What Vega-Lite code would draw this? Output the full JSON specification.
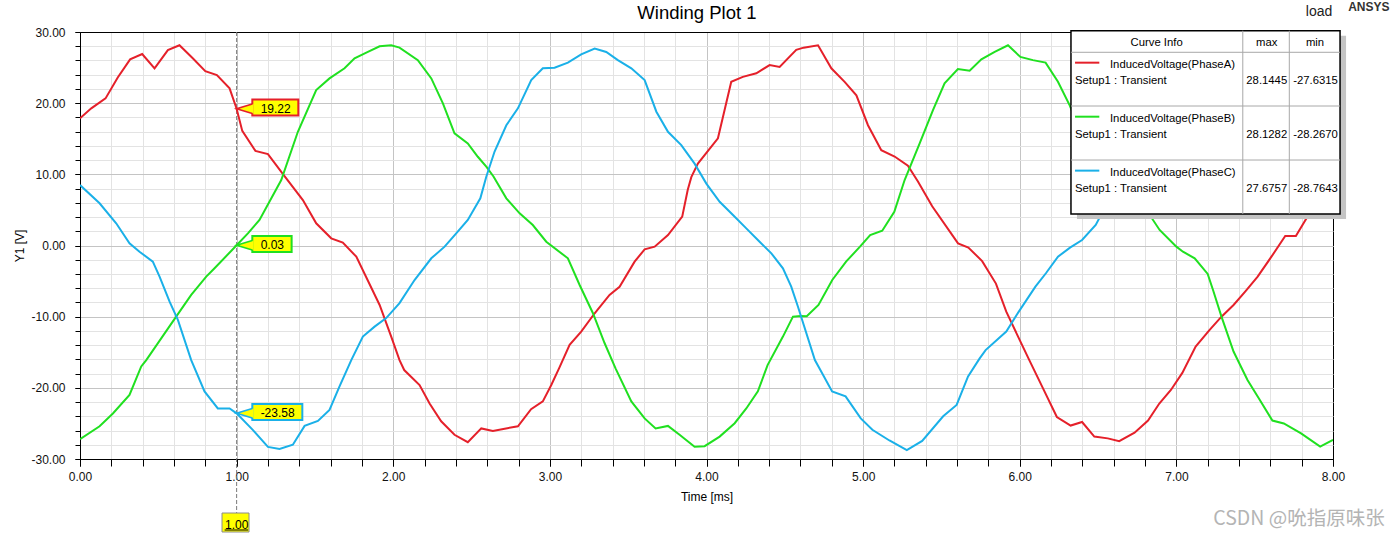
{
  "$schema": "https://vega.github.io/schema/vega-lite/v6.json",
  "width": 1253,
  "height": 427,
  "autosize": {"type": "none"},
  "padding": {"left": 80, "top": 32, "right": 67, "bottom": 78},
  "background": "white",
  "config": {
    "view": {"stroke": null},
    "font": "Liberation Sans",
    "locale": {"number": {"decimal": ".", "thousands": ",", "grouping": [3], "currency": ["$", ""], "minus": "-"}}
  },
  "resolve": {"axis": {"x": "independent", "y": "independent"}},
  "datasets": {
    "curves": [
      {"t":0,"v":17.87,"s":"PhaseA"},{"t":0.072,"v":19.27,"s":"PhaseA"},{"t":0.163,"v":20.67,"s":"PhaseA"},{"t":0.241,"v":23.6,"s":"PhaseA"},{"t":0.32,"v":26.15,"s":"PhaseA"},{"t":0.397,"v":26.9,"s":"PhaseA"},{"t":0.476,"v":24.9,"s":"PhaseA"},{"t":0.561,"v":27.46,"s":"PhaseA"},{"t":0.635,"v":28.14,"s":"PhaseA"},{"t":0.72,"v":26.3,"s":"PhaseA"},{"t":0.8,"v":24.5,"s":"PhaseA"},{"t":0.874,"v":23.95,"s":"PhaseA"},{"t":0.955,"v":22.08,"s":"PhaseA"},{"t":1.0,"v":19.22,"s":"PhaseA"},{"t":1.036,"v":16.1,"s":"PhaseA"},{"t":1.12,"v":13.3,"s":"PhaseA"},{"t":1.2,"v":12.85,"s":"PhaseA"},{"t":1.29,"v":10.2,"s":"PhaseA"},{"t":1.423,"v":6.39,"s":"PhaseA"},{"t":1.508,"v":3.12,"s":"PhaseA"},{"t":1.604,"v":1.01,"s":"PhaseA"},{"t":1.678,"v":0.4,"s":"PhaseA"},{"t":1.764,"v":-1.57,"s":"PhaseA"},{"t":1.913,"v":-8.36,"s":"PhaseA"},{"t":1.987,"v":-12.8,"s":"PhaseA"},{"t":2.04,"v":-16.1,"s":"PhaseA"},{"t":2.07,"v":-17.5,"s":"PhaseA"},{"t":2.168,"v":-19.6,"s":"PhaseA"},{"t":2.232,"v":-22.2,"s":"PhaseA"},{"t":2.306,"v":-24.7,"s":"PhaseA"},{"t":2.391,"v":-26.6,"s":"PhaseA"},{"t":2.476,"v":-27.63,"s":"PhaseA"},{"t":2.562,"v":-25.7,"s":"PhaseA"},{"t":2.636,"v":-26.05,"s":"PhaseA"},{"t":2.72,"v":-25.7,"s":"PhaseA"},{"t":2.796,"v":-25.4,"s":"PhaseA"},{"t":2.88,"v":-23.0,"s":"PhaseA"},{"t":2.955,"v":-21.9,"s":"PhaseA"},{"t":3.009,"v":-19.6,"s":"PhaseA"},{"t":3.06,"v":-17.2,"s":"PhaseA"},{"t":3.126,"v":-13.97,"s":"PhaseA"},{"t":3.2,"v":-12.1,"s":"PhaseA"},{"t":3.286,"v":-9.52,"s":"PhaseA"},{"t":3.381,"v":-6.95,"s":"PhaseA"},{"t":3.445,"v":-5.8,"s":"PhaseA"},{"t":3.541,"v":-2.27,"s":"PhaseA"},{"t":3.605,"v":-0.54,"s":"PhaseA"},{"t":3.669,"v":-0.16,"s":"PhaseA"},{"t":3.754,"v":1.47,"s":"PhaseA"},{"t":3.845,"v":4.05,"s":"PhaseA"},{"t":3.88,"v":7.8,"s":"PhaseA"},{"t":3.903,"v":9.6,"s":"PhaseA"},{"t":3.945,"v":11.5,"s":"PhaseA"},{"t":4.073,"v":15.06,"s":"PhaseA"},{"t":4.158,"v":23.0,"s":"PhaseA"},{"t":4.232,"v":23.7,"s":"PhaseA"},{"t":4.318,"v":24.2,"s":"PhaseA"},{"t":4.403,"v":25.35,"s":"PhaseA"},{"t":4.467,"v":25.1,"s":"PhaseA"},{"t":4.573,"v":27.5,"s":"PhaseA"},{"t":4.62,"v":27.8,"s":"PhaseA"},{"t":4.712,"v":28.14,"s":"PhaseA"},{"t":4.797,"v":24.9,"s":"PhaseA"},{"t":4.882,"v":23.0,"s":"PhaseA"},{"t":4.957,"v":21.1,"s":"PhaseA"},{"t":5.031,"v":16.9,"s":"PhaseA"},{"t":5.116,"v":13.4,"s":"PhaseA"},{"t":5.201,"v":12.5,"s":"PhaseA"},{"t":5.286,"v":11.2,"s":"PhaseA"},{"t":5.35,"v":9.0,"s":"PhaseA"},{"t":5.441,"v":5.52,"s":"PhaseA"},{"t":5.606,"v":0.3,"s":"PhaseA"},{"t":5.672,"v":-0.28,"s":"PhaseA"},{"t":5.76,"v":-2.2,"s":"PhaseA"},{"t":5.848,"v":-5.35,"s":"PhaseA"},{"t":5.914,"v":-9.3,"s":"PhaseA"},{"t":6.0,"v":-13.3,"s":"PhaseA"},{"t":6.061,"v":-16.1,"s":"PhaseA"},{"t":6.147,"v":-20.0,"s":"PhaseA"},{"t":6.237,"v":-24.1,"s":"PhaseA"},{"t":6.325,"v":-25.3,"s":"PhaseA"},{"t":6.398,"v":-24.8,"s":"PhaseA"},{"t":6.476,"v":-26.85,"s":"PhaseA"},{"t":6.562,"v":-27.1,"s":"PhaseA"},{"t":6.635,"v":-27.5,"s":"PhaseA"},{"t":6.733,"v":-26.3,"s":"PhaseA"},{"t":6.819,"v":-24.6,"s":"PhaseA"},{"t":6.891,"v":-22.2,"s":"PhaseA"},{"t":6.965,"v":-20.3,"s":"PhaseA"},{"t":7.038,"v":-17.9,"s":"PhaseA"},{"t":7.123,"v":-14.2,"s":"PhaseA"},{"t":7.211,"v":-11.9,"s":"PhaseA"},{"t":7.288,"v":-10.0,"s":"PhaseA"},{"t":7.365,"v":-8.36,"s":"PhaseA"},{"t":7.442,"v":-6.4,"s":"PhaseA"},{"t":7.519,"v":-4.38,"s":"PhaseA"},{"t":7.607,"v":-1.57,"s":"PhaseA"},{"t":7.695,"v":1.33,"s":"PhaseA"},{"t":7.763,"v":1.33,"s":"PhaseA"},{"t":7.85,"v":4.52,"s":"PhaseA"},{"t":7.9,"v":8.0,"s":"PhaseA"},{"t":7.95,"v":11.0,"s":"PhaseA"},{"t":8.0,"v":12.5,"s":"PhaseA"},
      {"t":0,"v":-27.2,"s":"PhaseB"},{"t":0.125,"v":-25.4,"s":"PhaseB"},{"t":0.21,"v":-23.6,"s":"PhaseB"},{"t":0.316,"v":-21.0,"s":"PhaseB"},{"t":0.391,"v":-17.0,"s":"PhaseB"},{"t":0.423,"v":-16.1,"s":"PhaseB"},{"t":0.614,"v":-10.0,"s":"PhaseB"},{"t":0.71,"v":-6.95,"s":"PhaseB"},{"t":0.806,"v":-4.38,"s":"PhaseB"},{"t":0.859,"v":-3.2,"s":"PhaseB"},{"t":1.0,"v":0.03,"s":"PhaseB"},{"t":1.072,"v":1.71,"s":"PhaseB"},{"t":1.146,"v":3.58,"s":"PhaseB"},{"t":1.285,"v":9.2,"s":"PhaseB"},{"t":1.391,"v":15.98,"s":"PhaseB"},{"t":1.508,"v":21.84,"s":"PhaseB"},{"t":1.593,"v":23.48,"s":"PhaseB"},{"t":1.689,"v":24.9,"s":"PhaseB"},{"t":1.753,"v":26.3,"s":"PhaseB"},{"t":1.838,"v":27.2,"s":"PhaseB"},{"t":1.913,"v":28.0,"s":"PhaseB"},{"t":1.987,"v":28.13,"s":"PhaseB"},{"t":2.04,"v":27.8,"s":"PhaseB"},{"t":2.157,"v":26.05,"s":"PhaseB"},{"t":2.243,"v":23.48,"s":"PhaseB"},{"t":2.317,"v":19.97,"s":"PhaseB"},{"t":2.391,"v":15.76,"s":"PhaseB"},{"t":2.476,"v":14.35,"s":"PhaseB"},{"t":2.54,"v":12.47,"s":"PhaseB"},{"t":2.594,"v":11.07,"s":"PhaseB"},{"t":2.64,"v":9.7,"s":"PhaseB"},{"t":2.722,"v":6.63,"s":"PhaseB"},{"t":2.807,"v":4.52,"s":"PhaseB"},{"t":2.891,"v":2.88,"s":"PhaseB"},{"t":2.977,"v":0.53,"s":"PhaseB"},{"t":3.115,"v":-1.8,"s":"PhaseB"},{"t":3.19,"v":-5.55,"s":"PhaseB"},{"t":3.275,"v":-9.52,"s":"PhaseB"},{"t":3.349,"v":-13.7,"s":"PhaseB"},{"t":3.42,"v":-17.3,"s":"PhaseB"},{"t":3.52,"v":-21.9,"s":"PhaseB"},{"t":3.605,"v":-24.3,"s":"PhaseB"},{"t":3.675,"v":-25.7,"s":"PhaseB"},{"t":3.754,"v":-25.35,"s":"PhaseB"},{"t":3.828,"v":-26.6,"s":"PhaseB"},{"t":3.924,"v":-28.27,"s":"PhaseB"},{"t":3.988,"v":-28.2,"s":"PhaseB"},{"t":4.084,"v":-26.85,"s":"PhaseB"},{"t":4.18,"v":-24.97,"s":"PhaseB"},{"t":4.254,"v":-22.9,"s":"PhaseB"},{"t":4.328,"v":-20.5,"s":"PhaseB"},{"t":4.39,"v":-16.8,"s":"PhaseB"},{"t":4.488,"v":-12.8,"s":"PhaseB"},{"t":4.552,"v":-10.0,"s":"PhaseB"},{"t":4.6,"v":-9.9,"s":"PhaseB"},{"t":4.64,"v":-9.95,"s":"PhaseB"},{"t":4.715,"v":-8.36,"s":"PhaseB"},{"t":4.803,"v":-4.85,"s":"PhaseB"},{"t":4.891,"v":-2.27,"s":"PhaseB"},{"t":4.98,"v":-0.16,"s":"PhaseB"},{"t":5.045,"v":1.47,"s":"PhaseB"},{"t":5.122,"v":2.08,"s":"PhaseB"},{"t":5.199,"v":4.75,"s":"PhaseB"},{"t":5.265,"v":9.2,"s":"PhaseB"},{"t":5.361,"v":14.35,"s":"PhaseB"},{"t":5.446,"v":19.03,"s":"PhaseB"},{"t":5.52,"v":22.78,"s":"PhaseB"},{"t":5.605,"v":24.8,"s":"PhaseB"},{"t":5.68,"v":24.55,"s":"PhaseB"},{"t":5.755,"v":26.15,"s":"PhaseB"},{"t":5.84,"v":27.2,"s":"PhaseB"},{"t":5.925,"v":28.13,"s":"PhaseB"},{"t":6.004,"v":26.5,"s":"PhaseB"},{"t":6.084,"v":26.05,"s":"PhaseB"},{"t":6.165,"v":25.7,"s":"PhaseB"},{"t":6.244,"v":23.0,"s":"PhaseB"},{"t":6.319,"v":19.7,"s":"PhaseB"},{"t":6.39,"v":15.8,"s":"PhaseB"},{"t":6.48,"v":14.3,"s":"PhaseB"},{"t":6.54,"v":12.5,"s":"PhaseB"},{"t":6.6,"v":11.0,"s":"PhaseB"},{"t":6.72,"v":6.6,"s":"PhaseB"},{"t":6.83,"v":4.28,"s":"PhaseB"},{"t":6.893,"v":2.18,"s":"PhaseB"},{"t":7.0,"v":-0.16,"s":"PhaseB"},{"t":7.042,"v":-0.87,"s":"PhaseB"},{"t":7.117,"v":-1.8,"s":"PhaseB"},{"t":7.2,"v":-4.0,"s":"PhaseB"},{"t":7.234,"v":-6.25,"s":"PhaseB"},{"t":7.288,"v":-10.0,"s":"PhaseB"},{"t":7.365,"v":-14.9,"s":"PhaseB"},{"t":7.454,"v":-18.9,"s":"PhaseB"},{"t":7.527,"v":-21.5,"s":"PhaseB"},{"t":7.613,"v":-24.6,"s":"PhaseB"},{"t":7.686,"v":-25.0,"s":"PhaseB"},{"t":7.796,"v":-26.4,"s":"PhaseB"},{"t":7.918,"v":-28.27,"s":"PhaseB"},{"t":8.0,"v":-27.3,"s":"PhaseB"},
      {"t":0,"v":8.5,"s":"PhaseC"},{"t":0.125,"v":5.93,"s":"PhaseC"},{"t":0.231,"v":3.12,"s":"PhaseC"},{"t":0.316,"v":0.31,"s":"PhaseC"},{"t":0.38,"v":-0.87,"s":"PhaseC"},{"t":0.465,"v":-2.27,"s":"PhaseC"},{"t":0.508,"v":-4.38,"s":"PhaseC"},{"t":0.572,"v":-7.9,"s":"PhaseC"},{"t":0.625,"v":-10.46,"s":"PhaseC"},{"t":0.71,"v":-16.1,"s":"PhaseC"},{"t":0.795,"v":-20.5,"s":"PhaseC"},{"t":0.88,"v":-22.9,"s":"PhaseC"},{"t":0.955,"v":-22.9,"s":"PhaseC"},{"t":1.0,"v":-23.58,"s":"PhaseC"},{"t":1.103,"v":-25.9,"s":"PhaseC"},{"t":1.2,"v":-28.3,"s":"PhaseC"},{"t":1.274,"v":-28.6,"s":"PhaseC"},{"t":1.359,"v":-28.0,"s":"PhaseC"},{"t":1.434,"v":-25.35,"s":"PhaseC"},{"t":1.519,"v":-24.65,"s":"PhaseC"},{"t":1.593,"v":-23.1,"s":"PhaseC"},{"t":1.657,"v":-19.8,"s":"PhaseC"},{"t":1.732,"v":-16.1,"s":"PhaseC"},{"t":1.806,"v":-12.8,"s":"PhaseC"},{"t":1.881,"v":-11.4,"s":"PhaseC"},{"t":1.955,"v":-10.2,"s":"PhaseC"},{"t":2.04,"v":-8.1,"s":"PhaseC"},{"t":2.136,"v":-4.85,"s":"PhaseC"},{"t":2.243,"v":-1.8,"s":"PhaseC"},{"t":2.328,"v":-0.16,"s":"PhaseC"},{"t":2.402,"v":1.71,"s":"PhaseC"},{"t":2.476,"v":3.58,"s":"PhaseC"},{"t":2.556,"v":6.63,"s":"PhaseC"},{"t":2.594,"v":9.66,"s":"PhaseC"},{"t":2.647,"v":13.2,"s":"PhaseC"},{"t":2.722,"v":16.9,"s":"PhaseC"},{"t":2.796,"v":19.27,"s":"PhaseC"},{"t":2.881,"v":23.24,"s":"PhaseC"},{"t":2.955,"v":24.9,"s":"PhaseC"},{"t":3.03,"v":24.97,"s":"PhaseC"},{"t":3.115,"v":25.7,"s":"PhaseC"},{"t":3.2,"v":26.85,"s":"PhaseC"},{"t":3.286,"v":27.68,"s":"PhaseC"},{"t":3.36,"v":27.2,"s":"PhaseC"},{"t":3.434,"v":26.05,"s":"PhaseC"},{"t":3.52,"v":24.9,"s":"PhaseC"},{"t":3.605,"v":23.24,"s":"PhaseC"},{"t":3.68,"v":18.8,"s":"PhaseC"},{"t":3.754,"v":15.98,"s":"PhaseC"},{"t":3.839,"v":14.1,"s":"PhaseC"},{"t":3.924,"v":11.5,"s":"PhaseC"},{"t":3.999,"v":8.7,"s":"PhaseC"},{"t":4.084,"v":6.15,"s":"PhaseC"},{"t":4.169,"v":4.28,"s":"PhaseC"},{"t":4.254,"v":2.41,"s":"PhaseC"},{"t":4.339,"v":0.53,"s":"PhaseC"},{"t":4.414,"v":-1.1,"s":"PhaseC"},{"t":4.488,"v":-3.2,"s":"PhaseC"},{"t":4.541,"v":-5.79,"s":"PhaseC"},{"t":4.584,"v":-8.6,"s":"PhaseC"},{"t":4.692,"v":-16.1,"s":"PhaseC"},{"t":4.727,"v":-17.5,"s":"PhaseC"},{"t":4.802,"v":-20.5,"s":"PhaseC"},{"t":4.888,"v":-21.2,"s":"PhaseC"},{"t":4.985,"v":-24.3,"s":"PhaseC"},{"t":5.059,"v":-25.9,"s":"PhaseC"},{"t":5.168,"v":-27.4,"s":"PhaseC"},{"t":5.279,"v":-28.76,"s":"PhaseC"},{"t":5.377,"v":-27.46,"s":"PhaseC"},{"t":5.511,"v":-24.0,"s":"PhaseC"},{"t":5.597,"v":-22.4,"s":"PhaseC"},{"t":5.67,"v":-18.4,"s":"PhaseC"},{"t":5.743,"v":-15.9,"s":"PhaseC"},{"t":5.782,"v":-14.7,"s":"PhaseC"},{"t":5.914,"v":-12.1,"s":"PhaseC"},{"t":5.98,"v":-9.76,"s":"PhaseC"},{"t":6.1,"v":-5.79,"s":"PhaseC"},{"t":6.167,"v":-3.9,"s":"PhaseC"},{"t":6.244,"v":-1.57,"s":"PhaseC"},{"t":6.321,"v":-0.3,"s":"PhaseC"},{"t":6.398,"v":0.77,"s":"PhaseC"},{"t":6.485,"v":2.88,"s":"PhaseC"},{"t":6.53,"v":4.75,"s":"PhaseC"},{"t":6.594,"v":9.66,"s":"PhaseC"},{"t":6.647,"v":13.2,"s":"PhaseC"},{"t":6.722,"v":16.9,"s":"PhaseC"},{"t":6.796,"v":19.27,"s":"PhaseC"},{"t":6.881,"v":23.24,"s":"PhaseC"},{"t":6.955,"v":24.9,"s":"PhaseC"},{"t":7.03,"v":24.97,"s":"PhaseC"},{"t":7.115,"v":25.7,"s":"PhaseC"},{"t":7.2,"v":26.85,"s":"PhaseC"},{"t":7.286,"v":27.6,"s":"PhaseC"},{"t":7.36,"v":27.2,"s":"PhaseC"},{"t":7.434,"v":26.05,"s":"PhaseC"},{"t":7.52,"v":24.9,"s":"PhaseC"},{"t":7.605,"v":23.24,"s":"PhaseC"},{"t":7.68,"v":18.8,"s":"PhaseC"},{"t":7.754,"v":15.98,"s":"PhaseC"},{"t":7.839,"v":14.1,"s":"PhaseC"},{"t":7.924,"v":11.5,"s":"PhaseC"},{"t":8.0,"v":8.7,"s":"PhaseC"}
    ],
    "callouts": [
      {"s":"PhaseA","t":1,"v":19.22},
      {"s":"PhaseB","t":1,"v":0.03},
      {"s":"PhaseC","t":1,"v":-23.58}
    ],
    "cursor": [{"t":1,"v":30,"v2":-30}],
    "legend_frame": [{"t":6.327,"t2":8.045,"v":30.18,"v2":4.426}],
    "legend_rules": [
      {"t":7.424,"t2":7.424,"v":30.18,"v2":4.426},
      {"t":7.721,"t2":7.721,"v":30.18,"v2":4.426},
      {"t":6.327,"t2":8.045,"v":27.15,"v2":27.15},
      {"t":6.327,"t2":8.045,"v":19.6,"v2":19.6},
      {"t":6.327,"t2":8.045,"v":12.01,"v2":12.01}
    ],
    "legend_samples": [
      {"s":"PhaseA","t":6.353,"t2":6.508,"v":25.69,"v2":25.69},
      {"s":"PhaseB","t":6.353,"t2":6.508,"v":18.1,"v2":18.1},
      {"s":"PhaseC","t":6.353,"t2":6.508,"v":10.52,"v2":10.52}
    ],
    "legend_center": [
      {"t":6.874,"v":28.41,"txt":"Curve Info"},
      {"t":7.577,"v":28.41,"txt":"max"},
      {"t":7.885,"v":28.41,"txt":"min"},
      {"t":7.577,"v":23.11,"txt":"28.1445"},
      {"t":7.888,"v":23.11,"txt":"-27.6315"},
      {"t":7.577,"v":15.53,"txt":"28.1282"},
      {"t":7.888,"v":15.53,"txt":"-28.2670"},
      {"t":7.577,"v":7.94,"txt":"27.6757"},
      {"t":7.888,"v":7.94,"txt":"-28.7643"}
    ],
    "legend_left": [
      {"t":6.576,"v":25.36,"txt":"InducedVoltage(PhaseA)"},
      {"t":6.353,"v":23.11,"txt":"Setup1 : Transient"},
      {"t":6.576,"v":17.77,"txt":"InducedVoltage(PhaseB)"},
      {"t":6.353,"v":15.53,"txt":"Setup1 : Transient"},
      {"t":6.576,"v":10.19,"txt":"InducedVoltage(PhaseC)"},
      {"t":6.353,"v":7.94,"txt":"Setup1 : Transient"}
    ]
  },
  "layer": [
    {
      "data": {"name": "curves"},
      "mark": {"type": "point", "opacity": 0},
      "encoding": {
        "x": {"field": "t", "type": "quantitative", "scale": {"domain": [0, 8], "nice": false, "zero": false},
          "axis": {"orient": "bottom", "values": [0,0.2,0.4,0.6,0.8,1,1.2,1.4,1.6,1.8,2,2.2,2.4,2.6,2.8,3,3.2,3.4,3.6,3.8,4,4.2,4.4,4.6,4.8,5,5.2,5.4,5.6,5.8,6,6.2,6.4,6.6,6.8,7,7.2,7.4,7.6,7.8,8],
            "labels": false, "title": null, "domain": false, "ticks": true, "tickSize": 7, "tickColor": "black",
            "grid": true, "gridColor": "#e3e3e3", "gridOpacity": {"condition": {"test": "datum.value <= 0 || datum.value >= 8", "value": 0}, "value": 1}}},
        "y": {"field": "v", "type": "quantitative", "scale": {"domain": [-30, 30], "nice": false, "zero": false},
          "axis": {"orient": "left", "values": [-30,-28,-26,-24,-22,-20,-18,-16,-14,-12,-10,-8,-6,-4,-2,0,2,4,6,8,10,12,14,16,18,20,22,24,26,28,30],
            "labels": false, "title": null, "domain": false, "ticks": true, "tickSize": 5, "tickColor": "black",
            "grid": true, "gridColor": "#e3e3e3", "gridOpacity": {"condition": {"test": "datum.value <= -30 || datum.value >= 30", "value": 0}, "value": 1}}}
      }
    },
    {
      "encoding": {
        "x": {"field": "t", "type": "quantitative", "scale": {"domain": [0, 8], "nice": false, "zero": false},
          "axis": {"orient": "bottom", "values": [0,1,2,3,4,5,6,7,8], "format": ".2f", "labelFontSize": 12, "labelColor": "#111111", "labelPadding": 5, "labelFlush": false, "labelOverlap": false,
            "ticks": true, "tickSize": 7, "tickColor": "black", "domain": true, "domainColor": "black",
            "grid": true, "gridColor": {"condition": {"test": "datum.value <= 0 || datum.value >= 8", "value": "black"}, "value": "#c4c4c4"},
            "title": "Time [ms]", "titleFontSize": 12, "titleFontWeight": "normal", "titleColor": "black", "titlePadding": 9}},
        "y": {"field": "v", "type": "quantitative", "scale": {"domain": [-30, 30], "nice": false, "zero": false},
          "axis": {"orient": "left", "values": [-30,-20,-10,0,10,20,30], "format": ".2f", "labelFontSize": 12, "labelColor": "#111111", "labelPadding": 10, "labelFlush": false, "labelOverlap": false,
            "ticks": true, "tickSize": 5, "tickColor": "black", "domain": true, "domainColor": "black",
            "grid": true, "gridColor": {"condition": {"test": "datum.value <= -30 || datum.value >= 30", "value": "black"}, "value": "#c4c4c4"},
            "title": "Y1 [V]", "titleFontSize": 12, "titleFontWeight": "normal", "titleColor": "black", "titlePadding": 4}}
      },
      "layer": [
        {
          "data": {"name": "cursor"},
          "mark": {"type": "rule", "strokeDash": [4, 2], "color": "#7a7a7a", "strokeWidth": 1, "y2Offset": 54},
          "encoding": {"y2": {"field": "v2"}}
        },
        {
          "data": {"name": "curves"},
          "mark": {"type": "line", "strokeWidth": 2, "clip": true},
          "encoding": {
            "color": {"field": "s", "type": "nominal", "scale": {"domain": ["PhaseA", "PhaseB", "PhaseC"], "range": ["#e5202a", "#20e020", "#1ab0e8"]}, "legend": null}
          }
        },
        {
          "data": {"name": "callouts"},
          "transform": [{"filter": "datum.s == 'PhaseA'"}],
          "mark": {"type": "rect", "fill": "#ffff00", "stroke": "#e5202a", "strokeWidth": 2, "xOffset": 15.7, "x2Offset": 61.7, "yOffset": -9.3, "y2Offset": 6.8},
          "encoding": {"x2": {"field": "t"}, "y2": {"field": "v"}}
        },
        {
          "data": {"name": "callouts"},
          "transform": [{"filter": "datum.s == 'PhaseB'"}],
          "mark": {"type": "rect", "fill": "#ffff00", "stroke": "#20e020", "strokeWidth": 2, "xOffset": 15.7, "x2Offset": 55, "yOffset": -9.3, "y2Offset": 6.8},
          "encoding": {"x2": {"field": "t"}, "y2": {"field": "v"}}
        },
        {
          "data": {"name": "callouts"},
          "transform": [{"filter": "datum.s == 'PhaseC'"}],
          "mark": {"type": "rect", "fill": "#ffff00", "stroke": "#1ab0e8", "strokeWidth": 2, "xOffset": 15.7, "x2Offset": 65.7, "yOffset": -9.3, "y2Offset": 6.8},
          "encoding": {"x2": {"field": "t"}, "y2": {"field": "v"}}
        },
        {
          "data": {"name": "callouts"},
          "mark": {"type": "point", "shape": "M0,0L2.15,-0.6L2.15,0.6Z", "size": 246, "filled": true, "fill": "#ffff00", "strokeWidth": 0, "opacity": 1}
        },
        {
          "data": {"name": "callouts"},
          "mark": {"type": "point", "shape": "M2,-0.6L0,0L2,0.6", "size": 246, "filled": false, "strokeWidth": 1.6, "opacity": 1},
          "encoding": {
            "stroke": {"field": "s", "type": "nominal", "scale": {"domain": ["PhaseA", "PhaseB", "PhaseC"], "range": ["#e5202a", "#20e020", "#1ab0e8"]}, "legend": null}
          }
        },
        {
          "data": {"name": "callouts"},
          "mark": {"type": "text", "align": "left", "baseline": "middle", "dx": 24, "fontSize": 12, "color": "black"},
          "encoding": {"text": {"field": "v", "type": "quantitative", "format": ".2f"}}
        },
        {
          "data": {"name": "cursor"},
          "mark": {"type": "rect", "fill": "#ffff00", "stroke": "#8c8c8c", "strokeWidth": 1, "xOffset": -14.6, "x2Offset": 12.4, "yOffset": 54, "y2Offset": 73},
          "encoding": {"x2": {"field": "t"}, "y": {"field": "v2"}, "y2": {"field": "v2"}}
        },
        {
          "data": {"name": "cursor"},
          "mark": {"type": "text", "align": "center", "baseline": "middle", "dy": 65.5, "fontSize": 12, "color": "black"},
          "encoding": {"y": {"field": "v2"}, "text": {"field": "t", "type": "quantitative", "format": ".2f"}}
        },
        {
          "data": {"name": "cursor"},
          "mark": {"type": "rule", "color": "black", "strokeWidth": 1, "xOffset": -12, "x2Offset": 11.5, "yOffset": 71},
          "encoding": {"x2": {"field": "t"}, "y": {"field": "v2"}}
        },
        {
          "data": {"name": "legend_frame"},
          "mark": {"type": "rect", "fill": "#c4c4c4", "xOffset": 6, "x2Offset": 6, "yOffset": 5, "y2Offset": 5},
          "encoding": {"x2": {"field": "t2"}, "y2": {"field": "v2"}}
        },
        {
          "data": {"name": "legend_frame"},
          "mark": {"type": "rect", "fill": "white", "stroke": "black", "strokeWidth": 1.5},
          "encoding": {"x2": {"field": "t2"}, "y2": {"field": "v2"}}
        },
        {
          "data": {"name": "legend_rules"},
          "mark": {"type": "rule", "color": "#a8a8a8", "strokeWidth": 1},
          "encoding": {"x2": {"field": "t2"}, "y2": {"field": "v2"}}
        },
        {
          "data": {"name": "legend_samples"},
          "mark": {"type": "rule", "strokeWidth": 2},
          "encoding": {"x2": {"field": "t2"}, "y2": {"field": "v2"},
            "stroke": {"field": "s", "type": "nominal", "scale": {"domain": ["PhaseA", "PhaseB", "PhaseC"], "range": ["#e5202a", "#20e020", "#1ab0e8"]}, "legend": null}}
        },
        {
          "data": {"name": "legend_center"},
          "mark": {"type": "text", "align": "center", "baseline": "middle", "fontSize": 11.3, "color": "black"},
          "encoding": {"text": {"field": "txt"}}
        },
        {
          "data": {"name": "legend_left"},
          "mark": {"type": "text", "align": "left", "baseline": "middle", "fontSize": 11.3, "color": "black"},
          "encoding": {"text": {"field": "txt"}}
        },
        {
          "data": {"values": [{"t": 3.939, "v": 32.71, "txt": "Winding Plot 1"}]},
          "mark": {"type": "text", "align": "center", "baseline": "middle", "fontSize": 18.5, "color": "black"},
          "encoding": {"text": {"field": "txt"}}
        },
        {
          "data": {"values": [{"t": 7.911, "v": 32.85, "txt": "load"}]},
          "mark": {"type": "text", "align": "center", "baseline": "middle", "fontSize": 14, "color": "#222222"},
          "encoding": {"text": {"field": "txt"}}
        },
        {
          "data": {"values": [{"t": 8.229, "v": 33.47, "txt": "ANSYS"}]},
          "mark": {"type": "text", "align": "center", "baseline": "middle", "fontSize": 12, "fontWeight": "bold", "color": "#333333"},
          "encoding": {"text": {"field": "txt"}}
        },
        {
          "data": {"values": [{"t": 7.783, "v": -38.43, "txt": "CSDN @吮指原味张"}]},
          "mark": {"type": "text", "align": "center", "baseline": "middle", "fontSize": 19.5, "font": "Noto Sans CJK SC", "color": "#b4b4b4"},
          "encoding": {"text": {"field": "txt"}}
        }
      ]
    }
  ]
}
